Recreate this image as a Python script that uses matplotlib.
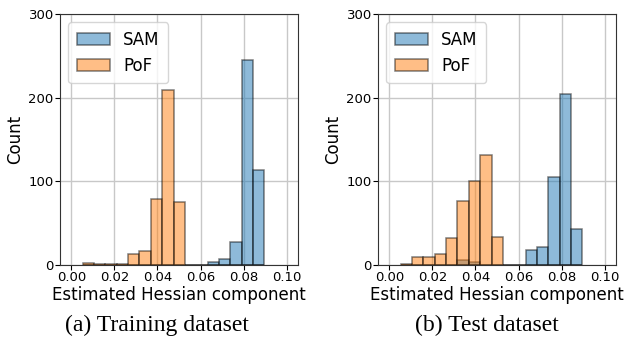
import numpy as np
import matplotlib
matplotlib.use("Agg")
import matplotlib.pyplot as plt

# bin edges shared by both histograms
edges = np.linspace(0.0053, 0.0896, 17)
centros = (edges[:-1] + edges[1:]) / 2

# counts per bin, training dataset
sam_train = [0, 0, 0, 0, 0, 0, 0, 0, 0, 0, 0, 3, 7, 28, 245, 113]
pof_train = [2, 1, 1, 1, 13, 17, 79, 209, 75, 0, 0, 0, 0, 0, 0, 0]

# counts per bin, test dataset
sam_test = [0, 0, 0, 0, 0, 6, 4, 0, 0, 0, 0, 18, 22, 105, 204, 43]
pof_test = [1, 10, 9, 13, 32, 77, 100, 131, 34, 0, 0, 0, 0, 0, 0, 0]

xticks = [0.00, 0.02, 0.04, 0.06, 0.08, 0.10]
yticks = [0, 100, 200, 300]
legenda = ["SAM", "PoF"]
legendas_fig = ["(a) Training dataset", "(b) Test dataset"]

W, H = 633, 339
plt.rcParams["font.family"] = "DejaVu Sans"
fig = plt.figure(figsize=(W / 100, H / 100), dpi=100)

posicoes = [
    [60 / W, 1 - 265 / H, 238 / W, 251 / H],
    [378 / W, 1 - 265 / H, 238 / W, 251 / H],
]
dados = [(sam_train, pof_train), (sam_test, pof_test)]
centros_legenda = [157 / W, 487 / W]


def desenhar(ax, sam, pof):
    ax.hist(centros, bins=edges, weights=sam, color="C0", alpha=0.5,
            edgecolor="black", linewidth=1.1, label=legenda[0], zorder=2)
    ax.hist(centros, bins=edges, weights=pof, color="C1", alpha=0.5,
            edgecolor="black", linewidth=1.1, label=legenda[1], zorder=2)
    ax.set_xlim(-0.0053, 0.1053)
    ax.set_ylim(0, 300)
    ax.set_xticks(xticks)
    ax.set_xticklabels([f"{t:.2f}" for t in xticks])
    ax.set_yticks(yticks)
    ax.tick_params(labelsize=9.5, pad=1)
    ax.grid(True, color="#c8c8c8", linewidth=1, zorder=0)
    ax.set_axisbelow(True)
    ax.set_xlabel("Estimated Hessian component", fontsize=12, labelpad=1)
    ax.set_ylabel("Count", fontsize=12, labelpad=3)
    ax.legend(loc="upper left", fontsize=12, handlelength=2.0,
              borderpad=0.5, framealpha=0.8)
    for s in ax.spines.values():
        s.set_color("#333333")


for pos, (sam, pof), cx, texto in zip(posicoes, dados, centros_legenda, legendas_fig):
    ax = fig.add_axes(pos)
    desenhar(ax, sam, pof)
    fig.text(cx, 1 - 325 / H, texto, ha="center", va="center",
             fontsize=17, family="Liberation Serif")

fig.savefig("out.png", dpi=100)
